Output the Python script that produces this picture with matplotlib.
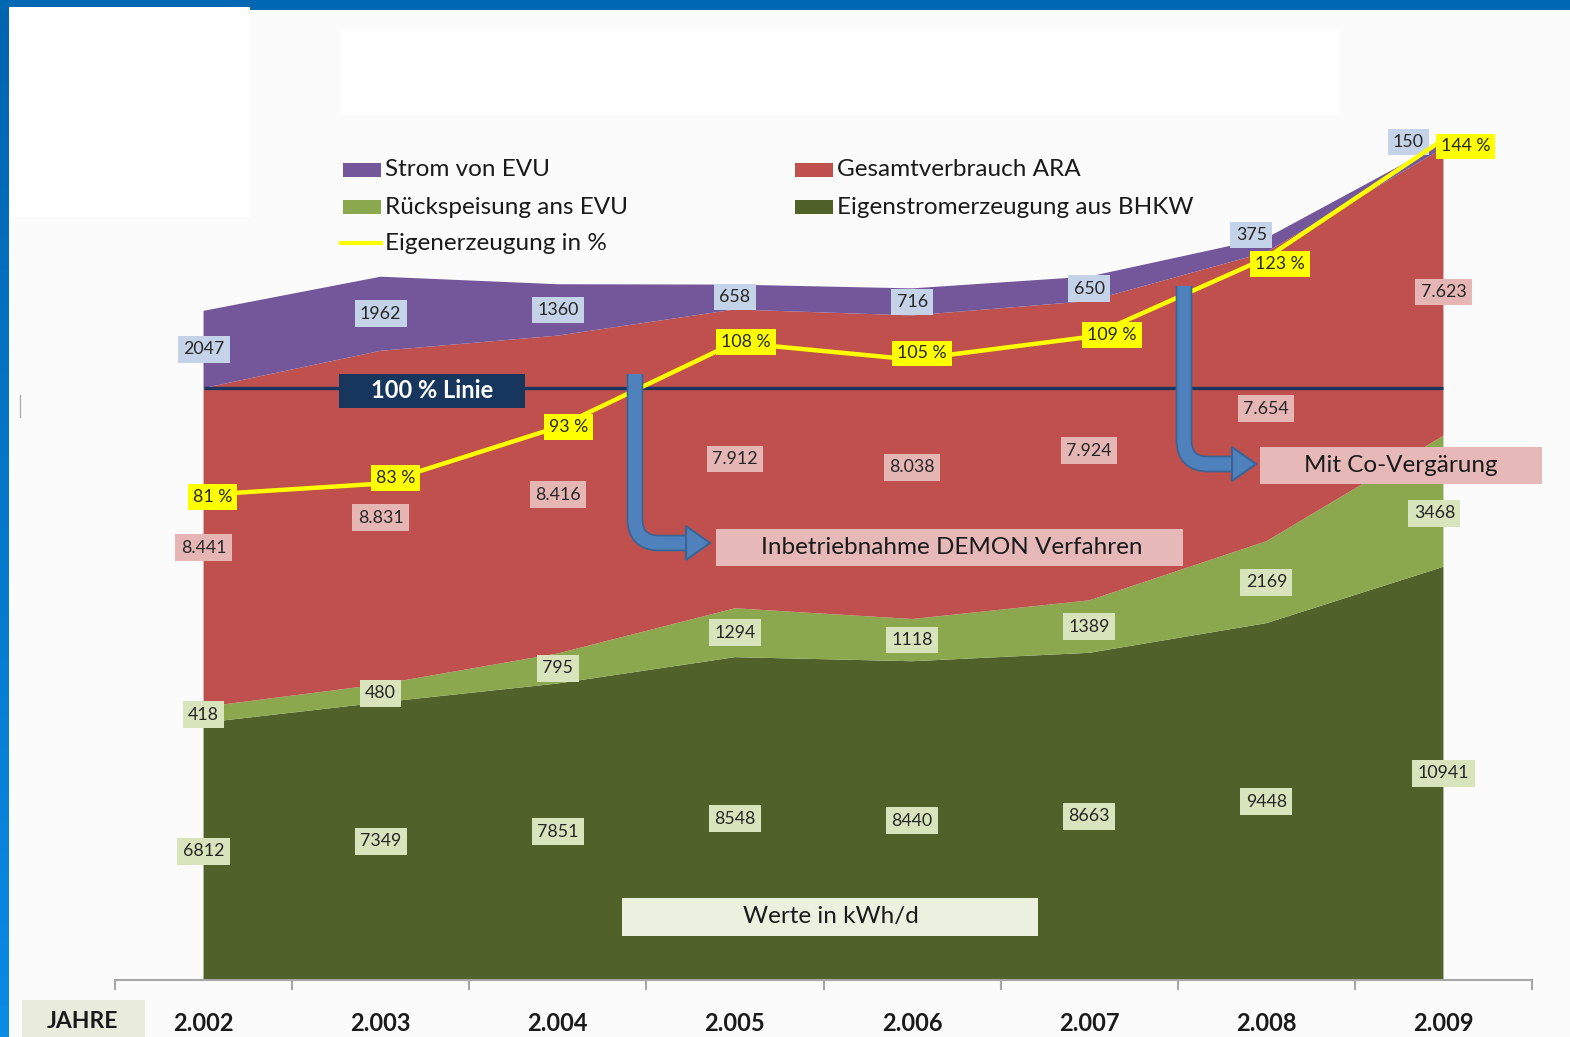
import numpy as np
import matplotlib.pyplot as plt
from matplotlib.patches import Rectangle, Polygon, PathPatch
from matplotlib.path import Path
from matplotlib.colors import LinearSegmentedColormap

plt.rcParams['font.family'] = ['Lato', 'DejaVu Sans']

# ------------------------------------------
# Daten (Werte in kWh/d)
# ------------------------------------------
years = ['2.002', '2.003', '2.004', '2.005', '2.006', '2.007', '2.008', '2.009']
bhkw = [6812, 7349, 7851, 8548, 8440, 8663, 9448, 10941]     # Eigenstromerzeugung aus BHKW
rueck = [418, 480, 795, 1294, 1118, 1389, 2169, 3468]        # Rückspeisung ans EVU
ara = [8441, 8831, 8416, 7912, 8038, 7924, 7654, 7623]       # Gesamtverbrauch ARA
evu = [2047, 1962, 1360, 658, 716, 650, 375, 150]            # Strom von EVU
eigen_pct = [81, 83, 93, 108, 105, 109, 123, 144]            # Eigenerzeugung in %

series_names = ['Strom von EVU', 'Gesamtverbrauch ARA', 'Rückspeisung ans EVU',
                'Eigenstromerzeugung aus BHKW', 'Eigenerzeugung in %']

# Farben
c_dark = '#50612a'
c_light = '#8ba84e'
c_red = '#c0504d'
c_purple = '#74569a'
c_yellow = '#ffff00'
c_navy = '#1b3560'
txt = '#262626'

W, H = 1570, 1037
fig = plt.figure(figsize=(W / 100, H / 100), dpi=100, facecolor='#fbfbfb')

# --- Hintergrund (Folienrahmen) ---
bg = fig.add_axes([0, 0, 1, 1], zorder=0)
bg.axis('off')
bg.add_patch(Rectangle((0, 0), W, 10, color='#0067b2', lw=0))
grad = LinearSegmentedColormap.from_list('g', ['#0064af', '#0a8be6'])
bg.imshow(np.linspace(0, 1, 200).reshape(-1, 1), cmap=grad, aspect='auto',
          extent=[0, 9, H, 0])
bg.add_patch(Rectangle((9, 7), 241, 210, color='white', lw=0))
bg.add_patch(Rectangle((340, 30), 1000, 85, color='#fefefe', lw=0))
bg.plot([20, 20], [395, 417], color='#b0b0b0', lw=1)
bg.set_xlim(0, W)
bg.set_ylim(H, 0)

# --- Flächendiagramm ---
x = np.arange(len(years))
ax = fig.add_axes([115 / W, 57 / H, 1417 / W, 880 / H], zorder=1)
ax.set_facecolor('none')
ax.stackplot(x, bhkw, rueck, ara, evu, colors=[c_dark, c_light, c_red, c_purple], lw=0)
ax.set_xlim(-0.5, len(years) - 0.5)
ax.set_ylim(0, 23300)

total_2002 = bhkw[0] + rueck[0] + ara[0]
ax.hlines(total_2002, 0, len(years) - 1, color=c_navy, lw=2.4, zorder=3)

for s in ['top', 'right', 'left']:
    ax.spines[s].set_visible(False)
ax.spines['bottom'].set_color('#a6a6a6')
ax.spines['bottom'].set_linewidth(1.5)
ax.set_yticks([])
ax.set_xticks(x, years, fontsize=17, fontweight='bold', color='#1a1a1a')
ax.tick_params(axis='x', which='major', length=0, pad=23)
ax.set_xticks(np.arange(len(years) + 1) - 0.5, minor=True)
ax.tick_params(axis='x', which='minor', length=7, color='#a6a6a6', width=1.5)

# Datenbeschriftungen (mittig im Band)
layers = [bhkw, rueck, ara, evu]
bottoms = np.vstack([np.zeros(len(x))] + [np.cumsum(layers, axis=0)[i] for i in range(3)])
mids = bottoms + np.array(layers) / 2.0
label_bg = ['#d8e4bc', '#d8e4bc', '#e6b6b5', '#c5d3e8']
label_dx = [[0] * 8, [0] * 7 + [-9], [0] * 8, [0] * 6 + [-15, -35]]
label_dy = [[0] * 8, [0] * 7 + [-12], [0] * 6 + [-12, 0], [0] * 6 + [10, 3]]
for li, vals in enumerate(layers):
    for i, v in enumerate(vals):
        s = f'{v:,}'.replace(',', '.') if li == 2 else str(v)
        ax.annotate(s, (x[i], mids[li][i]), xytext=(label_dx[li][i], label_dy[li][i]),
                    textcoords='offset pixels', ha='center', va='center',
                    fontsize=12.8, color=txt, zorder=5,
                    bbox=dict(boxstyle='square,pad=0.3', fc=label_bg[li], ec='none'))

# --- Eigenerzeugung in % (Sekundärachse) ---
ax2 = ax.twinx()
ax2.set_zorder(2)
ax2.set_ylim(-5, 151)
ax2.axis('off')
ax2.plot(x, eigen_pct, color=c_yellow, lw=3.2, solid_capstyle='butt', zorder=3)
pct_dx = [9, 15, 11, 11, 10, 23, 14, 22]
pct_dy = [-2, 6, 0, 1, 6, 2, -6, -7]
for i, p in enumerate(eigen_pct):
    ax2.annotate(f'{p} %', (x[i], p), xytext=(pct_dx[i], pct_dy[i]),
                 textcoords='offset pixels', ha='center', va='center',
                 fontsize=12.8, color=txt, zorder=5,
                 bbox=dict(boxstyle='square,pad=0.28', fc=c_yellow, ec='none'))

# --- Vordergrund: Legende, Hinweise, Pfeile ---
fg = fig.add_axes([0, 0, 1, 1], zorder=3)
fg.set_facecolor('none')
fg.set_xlim(0, W)
fg.set_ylim(H, 0)
fg.axis('off')

leg_items = [(343, 170, c_purple, series_names[0]),
             (343, 207, c_light, series_names[2]),
             (795, 170, c_red, series_names[1]),
             (795, 207, c_dark, series_names[3])]
for lx, ly, col, name in leg_items:
    fg.add_patch(Rectangle((lx, ly - 7), 38, 14, color=col, lw=0))
    fg.text(lx + 42, ly, name, fontsize=17.5, color='#1a1a1a', va='center', ha='left')
fg.plot([341, 381], [243, 243], color=c_yellow, lw=3)
fg.text(385, 243, series_names[4], fontsize=17.5, color='#1a1a1a', va='center', ha='left')

# 100 % Linie
fg.add_patch(Rectangle((339, 374), 186, 34, color='#17365d', lw=0))
fg.text(432, 391, '100 % Linie', fontsize=17, fontweight='bold', color='white',
        ha='center', va='center')


def bent_arrow(x0, y0, y1, x1, r=24, head=22, hw=17):
    verts = [(x0, y0), (x0, y1 - r), (x0, y1), (x0 + r, y1), (x1, y1)]
    codes = [Path.MOVETO, Path.LINETO, Path.CURVE3, Path.CURVE3, Path.LINETO]
    pth = Path(verts, codes)
    fg.add_patch(PathPatch(pth, fill=False, ec='#3a6494', lw=12, capstyle='butt'))
    fg.add_patch(PathPatch(pth, fill=False, ec='#4f81bd', lw=9.5, capstyle='butt'))
    fg.add_patch(Polygon([(x1 - 2, y1 - hw), (x1 + head, y1), (x1 - 2, y1 + hw)],
                         closed=True, fc='#4f81bd', ec='#3a6494', lw=1.5))


bent_arrow(635, 374, 543, 688)
bent_arrow(1184, 286, 464, 1234)

# Hinweisboxen
boxes = [(716, 529, 467, 37, '#e6b9b8', 'Inbetriebnahme DEMON Verfahren', 952),
         (1260, 447, 282, 37, '#e6b9b8', 'Mit Co-Vergärung', 1401),
         (622, 898, 416, 38, '#ebf1de', 'Werte in kWh/d', 831)]
for bx, by, bw, bh, col, label, tx in boxes:
    fg.add_patch(Rectangle((bx, by), bw, bh, color=col, lw=0))
    fg.text(tx, by + bh / 2, label, fontsize=17.5, color='#1a1a1a', ha='center', va='center')

fg.add_patch(Rectangle((22, 1000), 123, 40, color='#e9ebdc', lw=0))
fg.text(82, 1021, 'JAHRE', fontsize=16.5, fontweight='bold', color='#1a1a1a',
        ha='center', va='center')

fig.savefig('out.png', dpi=100, facecolor=fig.get_facecolor())
